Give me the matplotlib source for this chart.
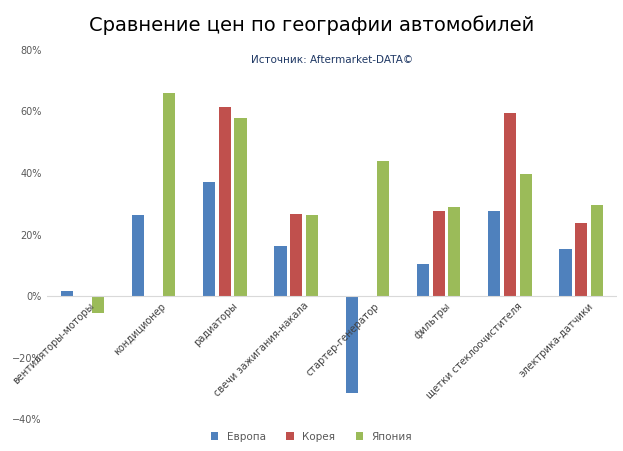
import numpy as np
import matplotlib.pyplot as plt
from matplotlib.ticker import PercentFormatter

categories = ["вентиляторы-моторы", "кондиционер", "радиаторы", "свечи зажигания-накала",
              "стартер-генератор", "фильтры", "щетки стеклоочистителя", "электрика-датчики"]
europe = [1.6, 26.3, 37.0, 16.3, -31.5, 10.4, 27.6, 15.3]
korea = [0, 0, 61.5, 26.7, 0, 27.6, 59.3, 23.8]
japan = [-5.5, 66.0, 57.7, 26.3, 44.0, 29.0, 39.7, 29.6]
series = [("Европа", europe, "#4F81BD"), ("Корея", korea, "#C0504D"), ("Япония", japan, "#9BBB59")]

fig = plt.figure(figsize=(6.23, 4.51), dpi=100)
ax = fig.add_axes([0.075, 0.07, 0.915, 0.82])
x = np.arange(len(categories))
w = 0.17
step = 0.22
for i, (name, vals, col) in enumerate(series):
    ax.bar(x + (i - 1) * step, vals, w, color=col, label=name)

ax.set_ylim(-40, 80)
ax.set_yticks(range(-40, 81, 20))
ax.yaxis.set_major_formatter(PercentFormatter(decimals=0))
ax.tick_params(axis="y", labelsize=7, colors="#595959", length=0)
ax.set_xlim(-0.5, len(categories) - 0.5)
ax.set_xticks([])
for s in ["top", "right", "left", "bottom"]:
    ax.spines[s].set_visible(False)
ax.axhline(0, color="#D9D9D9", lw=0.8)
for xi, lab in zip(x, categories):
    ax.text(xi + 0.1, -1.5, lab, rotation=45, ha="right", va="top", fontsize=7, color="#404040",
            rotation_mode="anchor")

fig.text(0.5, 0.945, "Сравнение цен по географии автомобилей", ha="center", va="center", fontsize=14)
ax.text(0.5, 0.985, "Источник: Aftermarket-DATA©", transform=ax.transAxes, ha="center", va="top",
        fontsize=7.5, color="#1F3864")
fig.legend(loc="lower center", ncol=3, frameon=False, fontsize=7.5, handlelength=0.7,
           handleheight=0.7, bbox_to_anchor=(0.5, 0.0), labelcolor="#595959")
fig.savefig("out.png", dpi=100)
